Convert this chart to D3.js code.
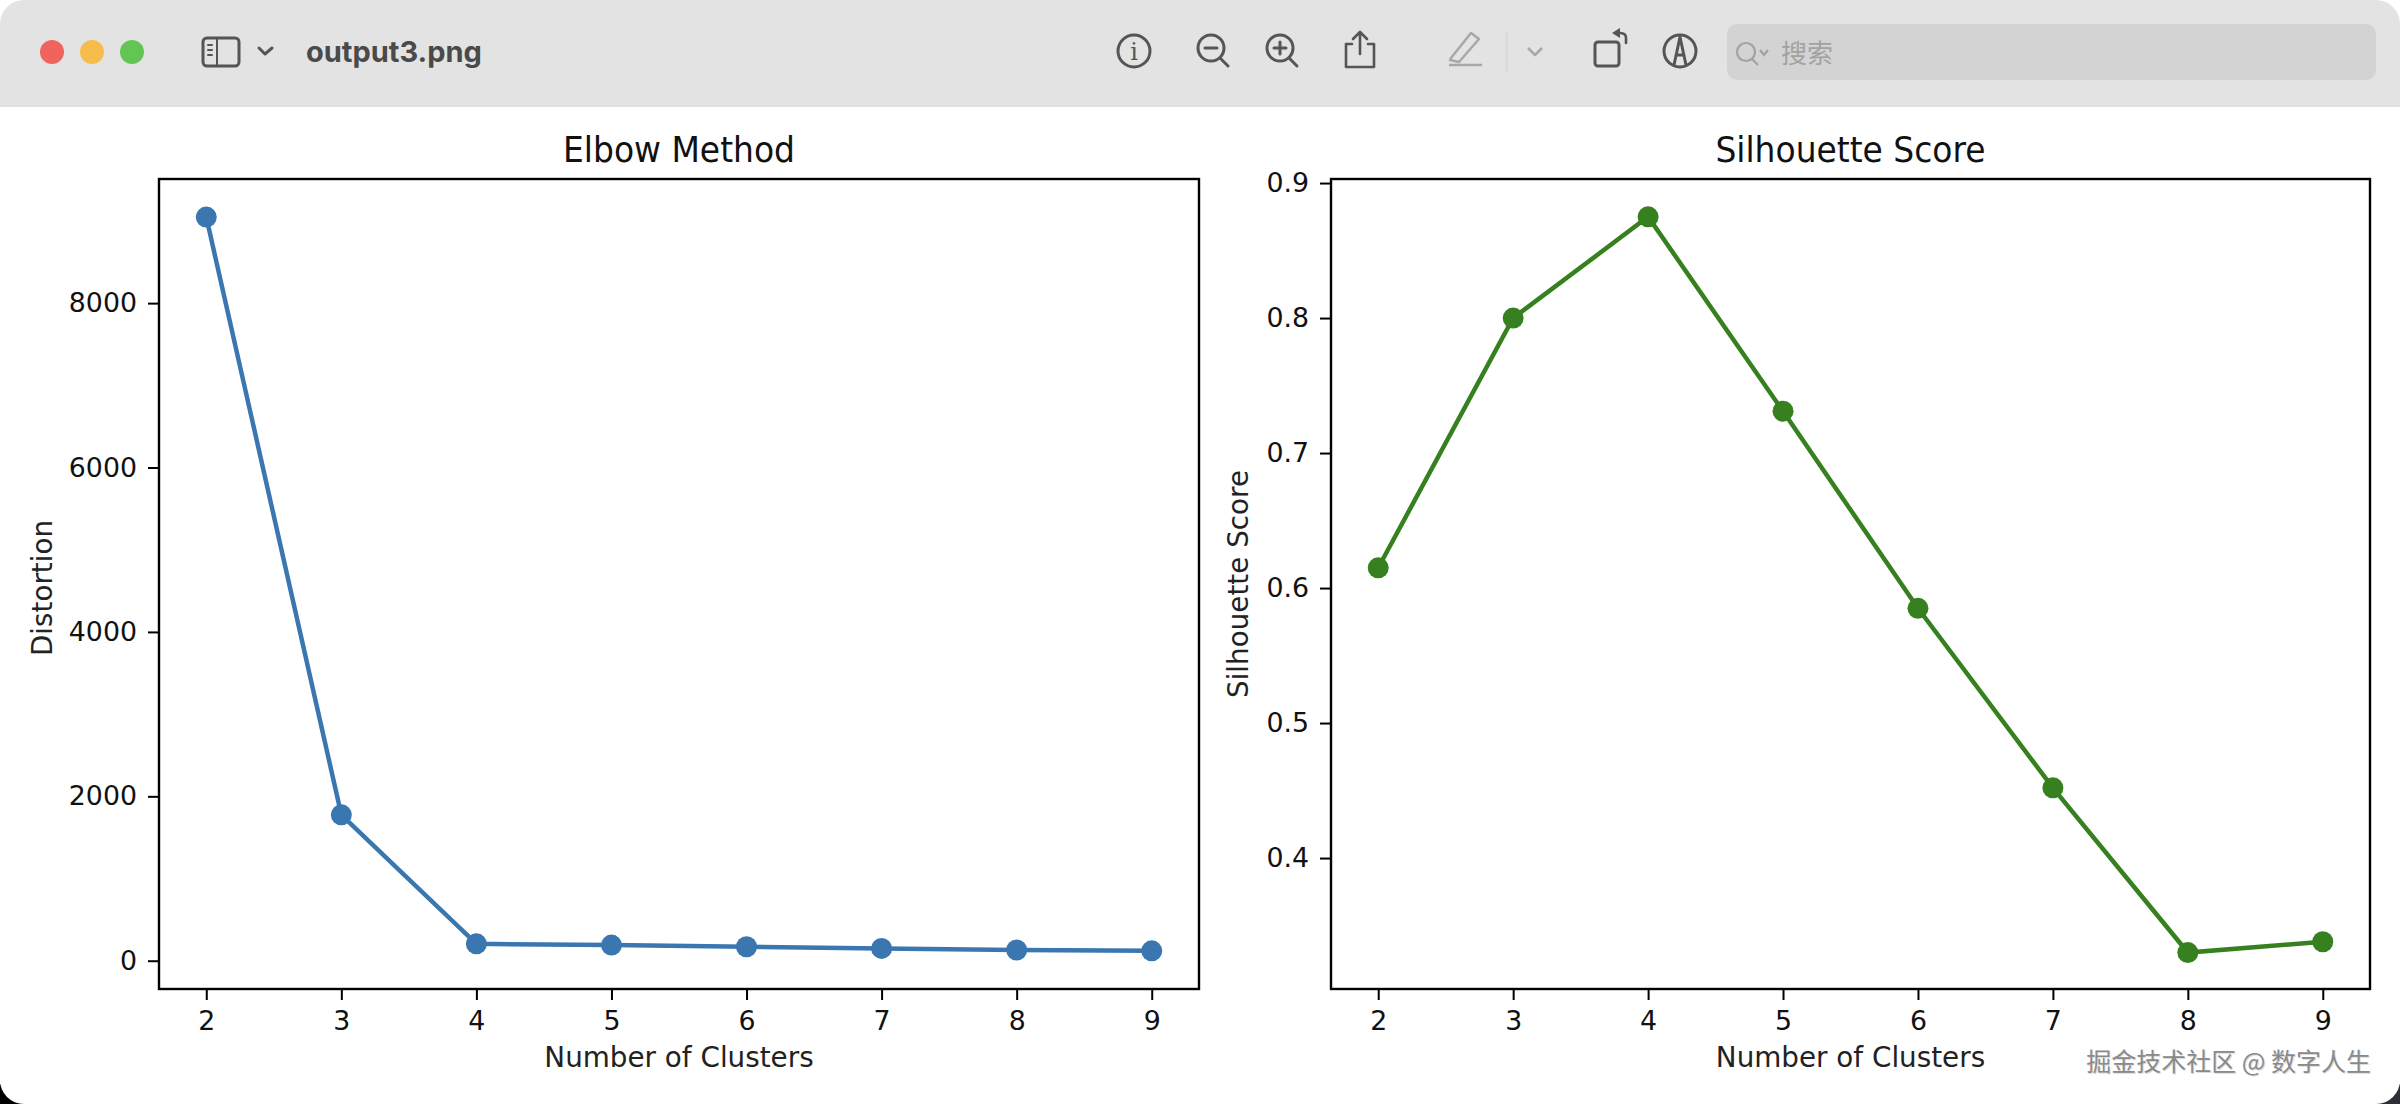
<!DOCTYPE html>
<html><head><meta charset="utf-8">
<script src="https://cdn.jsdelivr.net/npm/d3@7"></script>
<style>html,body{margin:0;padding:0;background:#fff;overflow:hidden}svg{display:block}</style>
</head><body><svg id="c" width="2400" height="1104"></svg>
<script>
const clusters=[2,3,4,5,6,7,8,9];
const distortion=[9047,1775,205,190,170,150,130,120];
const silhouette=[0.615,0.800,0.875,0.731,0.585,0.452,0.330,0.338];
const distortionTicks=[0,2000,4000,6000,8000];
const silhouetteTicks=[0.4,0.5,0.6,0.7,0.8,0.9];
const FONT='"DejaVu Sans",sans-serif';
const svg=d3.select('#c');
// window frame
svg.append('rect').attr('width',2400).attr('height',1104).attr('fill','#fff');
svg.append('rect').attr('x',0).attr('y',1084).attr('width',24).attr('height',20).attr('fill','#000');
svg.append('rect').attr('x',2376).attr('y',1084).attr('width',24).attr('height',20).attr('fill','#2c2f33');
svg.append('rect').attr('x',0).attr('y',0).attr('width',2400).attr('height',1104).attr('rx',24).attr('fill','#fff');
svg.append('path').attr('d','M0 106V24A24 24 0 0 1 24 0H2376A24 24 0 0 1 2400 24V106Z').attr('fill','#e3e3e3');
svg.append('rect').attr('x',0).attr('y',105).attr('width',2400).attr('height',2).attr('fill','#e0e0e0');
// traffic lights
[[52,'#f1645d'],[92,'#f7bd4c'],[132,'#63c654']].forEach(([x,c])=>svg.append('circle').attr('cx',x).attr('cy',52).attr('r',12).attr('fill',c));
const ic='#555';
const g=svg.append('g').attr('fill','none').attr('stroke',ic).attr('stroke-width',3).attr('stroke-linecap','round').attr('stroke-linejoin','round');
g.append('rect').attr('x',203).attr('y',38).attr('width',36).attr('height',28).attr('rx',4);
g.append('path').attr('d','M217 38V66M208 45H212M208 50H212M208 55H212').attr('stroke-width',2);
g.append('path').attr('d','M259 48L265 54L272 48');
svg.append('text').attr('x',306).attr('y',62).attr('font-family','Inter,Roboto,sans-serif').attr('font-weight',700).attr('font-size',29).attr('fill','#4a4a4a').text('output3.png');
// toolbar icons
g.append('circle').attr('cx',1134).attr('cy',51).attr('r',16);
svg.append('text').attr('x',1134).attr('y',60).attr('text-anchor','middle').attr('font-family','"DejaVu Serif",serif').attr('font-size',24).attr('fill',ic).text('i');
g.append('circle').attr('cx',1211).attr('cy',48).attr('r',13);
g.append('path').attr('d','M1220 58L1228 66M1205 48H1217');
g.append('circle').attr('cx',1280).attr('cy',48).attr('r',13);
g.append('path').attr('d','M1289 58L1297 66M1274 48H1286M1280 42V54');
g.append('path').attr('d','M1352 44H1346V67H1374V44H1368M1360 54V32M1353 39L1360 32L1367 39').attr('stroke-width',2.6);
const g2=svg.append('g').attr('fill','none').attr('stroke','#a8a8a8').attr('stroke-width',2.5).attr('stroke-linejoin','round');
g2.append('path').attr('d','M1451 58L1471 33L1479 39L1459 62L1450 60ZM1449 65H1482');
g2.append('path').attr('d','M1528 48L1535 55L1542 48');
svg.append('rect').attr('x',1506).attr('y',32).attr('width',1.5).attr('height',40).attr('fill','#d6d6d6');
g.append('rect').attr('x',1595).attr('y',42).attr('width',24).attr('height',24).attr('rx',3);
g.append('path').attr('d','M1626 43V38Q1626 33 1620 33H1616').attr('stroke-width',2.6);
svg.append('path').attr('d','M1612 33L1620 28V38Z').attr('fill',ic);
g.append('circle').attr('cx',1680).attr('cy',51).attr('r',16);
g.append('path').attr('d','M1674 65L1680 37L1686 65M1676 55H1684');
// search field
svg.append('rect').attr('x',1727).attr('y',24).attr('width',649).attr('height',56).attr('rx',10).attr('fill','#d3d3d3');
const g3=svg.append('g').attr('fill','none').attr('stroke','#a2a2a2').attr('stroke-width',2.2);
g3.append('circle').attr('cx',1746).attr('cy',52).attr('r',9);
g3.append('path').attr('d','M1752 59L1758 65M1760 50L1764 55L1768 50');
svg.append('text').attr('x',1781).attr('y',63).attr('font-family','"Noto Sans CJK SC"').attr('font-size',26).attr('fill','#a2a2a2').text('搜索');

function panel(o){
  const x=d3.scaleLinear().domain([1.65,9.35]).range([o.l,o.r]);
  const y=d3.scaleLinear().domain(o.yd).range([989,179]);
  const a=svg.append('g');
  const line=d3.line().x((d,i)=>x(clusters[i])).y(d=>y(d));
  a.append('path').datum(o.v).attr('d',line).attr('fill','none').attr('stroke',o.c).attr('stroke-width',4.5);
  a.selectAll('circle').data(o.v).join('circle').attr('cx',(d,i)=>x(clusters[i])).attr('cy',d=>y(d)).attr('r',10.5).attr('fill',o.c);
  const ax=a.append('g').attr('transform','translate(0,989)').call(d3.axisBottom(x).tickValues(clusters).tickFormat(d3.format('d')).tickSize(11).tickPadding(11));
  const ay=a.append('g').attr('transform',`translate(${o.l},0)`).call(d3.axisLeft(y).tickValues(o.t).tickFormat(o.f).tickSize(11).tickPadding(11));
  [ax,ay].forEach(s=>{s.select('.domain').remove();s.selectAll('line').attr('stroke','#000').attr('stroke-width',2);s.selectAll('text').attr('font-family',FONT).attr('font-size',26.8).attr('fill','#111');});
  a.append('rect').attr('x',o.l).attr('y',179).attr('width',o.r-o.l).attr('height',810).attr('fill','none').attr('stroke','#000').attr('stroke-width',2.4);
  const cx=(o.l+o.r)/2;
  a.append('text').attr('transform',`translate(${cx},162) scale(0.915,1)`).attr('text-anchor','middle').attr('font-family',FONT).attr('font-size',36).attr('fill','#111').text(o.title);
  a.append('text').attr('x',cx).attr('y',1067).attr('text-anchor','middle').attr('font-family',FONT).attr('font-size',27.8).attr('fill','#222').text('Number of Clusters');
  a.append('text').attr('transform',`translate(${o.yx},${o.yc}) rotate(-90)`).attr('text-anchor','middle').attr('font-family',FONT).attr('font-size',27.8).attr('fill','#222').text(o.yl);
}
panel({l:159,r:1199,yd:[-344,9510],v:distortion,t:distortionTicks,f:d3.format('d'),c:'#3a76af',title:'Elbow Method',yl:'Distortion',yx:52,yc:588});
panel({l:1331,r:2370,yd:[0.303,0.903],v:silhouette,t:silhouetteTicks,f:d3.format('.1f'),c:'#36801f',title:'Silhouette Score',yl:'Silhouette Score',yx:1248,yc:584});
// watermark
const wm=(dx,dy,c)=>svg.append('text').attr('x',2371+dx).attr('y',1071+dy).attr('text-anchor','end').attr('font-family','"Noto Sans CJK SC"').attr('font-size',25).attr('fill',c).text('掘金技术社区 @ 数字人生');
wm(1,1,'#dcdcdc');wm(0,0,'#8a8a8a');
</script></body></html>
